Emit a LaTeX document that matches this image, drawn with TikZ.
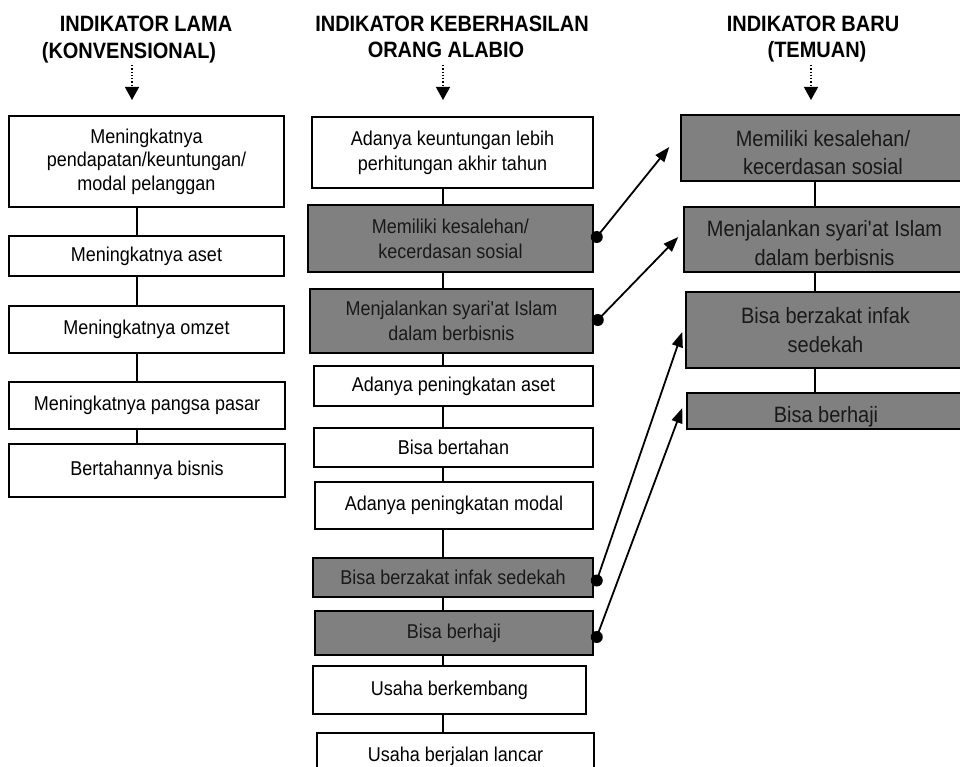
\documentclass[tikz,border=0pt]{standalone}
\usepackage{fontspec}
\setmainfont{Liberation Sans}[FakeStretch=0.9]
\usetikzlibrary{arrows.meta}
\definecolor{boxgray}{RGB}{128,128,128}
\newcommand{\lowtext}[2]{\raisebox{-#1}[\height][\depth]{\begin{tabular}{@{}c@{}}#2\end{tabular}}}
\begin{document}
\begin{tikzpicture}[x=1pt,y=-1pt,
  box/.style={draw=black, line width=1.5pt, fill=white, inner sep=0pt, align=center,
              font=\fontsize{20}{25}\selectfont, text=black},
  gbox/.style={box, fill=boxgray, text=black!90},
  rbox/.style={gbox, font=\fontsize{22.2}{28.5}\selectfont},
  lead/.style={font=\fontsize{20}{#1}\selectfont},
  vline/.style={line width=1.2pt},
  conn/.style={line width=1.8pt, -{Triangle[length=15pt,width=11pt]}},
  dotarr/.style={dotted, line width=1.3pt, -{Triangle[length=13pt,width=14pt]}},
  head/.style={font=\fontsize{22.2}{26}\selectfont\bfseries, anchor=base, inner sep=0pt},
  dotend/.style={fill=black}
]
\useasboundingbox (0,0) rectangle (960,767);

% column line positions
\coordinate (cxL) at (137,0);
\coordinate (cxM) at (443,0);
\coordinate (cxR) at (815,0);

% headers
\node[head] (hL1) at (146,32) {INDIKATOR LAMA};
\node[head] (hL2) at (129,59) {(KONVENSIONAL)};
\node[head] (hM1) at (452,32) {INDIKATOR KEBERHASILAN};
\node[head] (hM2) at (446,58) {ORANG ALABIO};
\node[head] (hR1) at (813,32) {INDIKATOR BARU};
\node[head] (hR2) at (817,58) {(TEMUAN)};

\coordinate (tL) at (132,100);
\coordinate (tM) at (443,100);
\coordinate (tR) at (811,100);
\coordinate (sL) at (132,65);
\coordinate (sM) at (443,65);
\coordinate (sR) at (811,65);

% left column
\node[box, lead=23.5, minimum width=275pt, minimum height=91pt] (l1) at (146.5,161.5)
  {Meningkatnya\\pendapatan/keuntungan/\\modal pelanggan};
\node[box, minimum width=275pt, minimum height=40pt] (l2) at (146.5,256) {Meningkatnya aset};
\node[box, minimum width=275pt, minimum height=47pt] (l3) at (146.5,329.5) {Meningkatnya omzet};
\node[box, minimum width=276pt, minimum height=47pt] (l4) at (147,405.5) {Meningkatnya pangsa pasar};
\node[box, minimum width=276pt, minimum height=53pt] (l5) at (147,470.5) {Bertahannya bisnis};

% middle column
\node[box, minimum width=281pt, minimum height=71pt] (m1) at (452.5,152.5)
  {Adanya keuntungan lebih\\perhitungan akhir tahun};
\node[gbox, minimum width=285pt, minimum height=67pt] (m2) at (450.5,238.5)
  {Memiliki kesalehan/\\kecerdasan sosial};
\node[gbox, minimum width=283pt, minimum height=64pt] (m3) at (451.5,321)
  {Menjalankan syari\textquotesingle at Islam\\dalam berbisnis};
\node[box, minimum width=279pt, minimum height=40pt] (m4) at (453.5,386) {Adanya peningkatan aset};
\node[box, minimum width=279pt, minimum height=39pt] (m5) at (453.5,447.5) {Bisa bertahan};
\node[box, minimum width=278pt, minimum height=47pt] (m6) at (454,505.5) {Adanya peningkatan modal};
\node[gbox, minimum width=280pt, minimum height=39pt] (m7) at (453,577.5) {Bisa berzakat infak sedekah};
\node[gbox, minimum width=278pt, minimum height=44pt] (m8) at (454,633) {Bisa berhaji};
\node[box, minimum width=273pt, minimum height=48pt] (m9) at (449.5,690) {Usaha berkembang};
\node[box, minimum width=277pt, minimum height=47pt] (m10) at (455.5,756.5) {Usaha berjalan lancar};

% right column
\node[rbox, minimum width=284pt, minimum height=66pt] (r1) at (823,148)
  {\lowtext{7pt}{Memiliki kesalehan/\\kecerdasan sosial}};
\node[rbox, minimum width=281pt, minimum height=65pt] (r2) at (824.5,239.5)
  {\lowtext{6pt}{Menjalankan syari\textquotesingle at Islam\\dalam berbisnis}};
\node[rbox, minimum width=279pt, minimum height=76pt] (r3) at (825.5,330)
  {Bisa berzakat infak\\sedekah};
\node[rbox, minimum width=278pt, minimum height=36pt] (r4) at (826,411)
  {\raisebox{-6pt}[\height][\depth]{Bisa berhaji}};

% header arrows
\draw[dotarr] (sL) -- (tL);
\draw[dotarr] (sM) -- (tM);
\draw[dotarr] (sR) -- (tR);

% vertical connectors
\foreach \a/\b in {l1/l2,l2/l3,l3/l4,l4/l5}
  \draw[vline] (\a.south -| cxL) -- (\b.north -| cxL);
\foreach \a/\b in {m1/m2,m2/m3,m3/m4,m4/m5,m5/m6,m6/m7,m7/m8,m8/m9,m9/m10}
  \draw[vline] (\a.south -| cxM) -- (\b.north -| cxM);
\foreach \a/\b in {r1/r2,r2/r3,r3/r4}
  \draw[vline] (\a.south -| cxR) -- (\b.north -| cxR);

% cross arrows
\draw[conn] ([xshift=3pt,yshift=1.5pt]m2.east) -- ([xshift=-11pt,yshift=1pt]r1.west);
\fill[dotend] ([xshift=3pt,yshift=1.5pt]m2.east) circle (6pt);
\draw[conn] ([xshift=4pt,yshift=1pt]m3.east) -- ([xshift=-5pt,yshift=2.5pt]r2.west);
\fill[dotend] ([xshift=4pt,yshift=1pt]m3.east) circle (6pt);
\draw[conn] ([xshift=3pt,yshift=-3pt]m7.east) -- ([xshift=-3pt,yshift=-2pt]r3.west);
\fill[dotend] ([xshift=3pt,yshift=-3pt]m7.east) circle (6pt);
\draw[conn] ([xshift=3pt,yshift=-4pt]m8.east) -- ([xshift=-4pt,yshift=3pt]r4.west);
\fill[dotend] ([xshift=3pt,yshift=-4pt]m8.east) circle (6pt);
\end{tikzpicture}
\end{document}
